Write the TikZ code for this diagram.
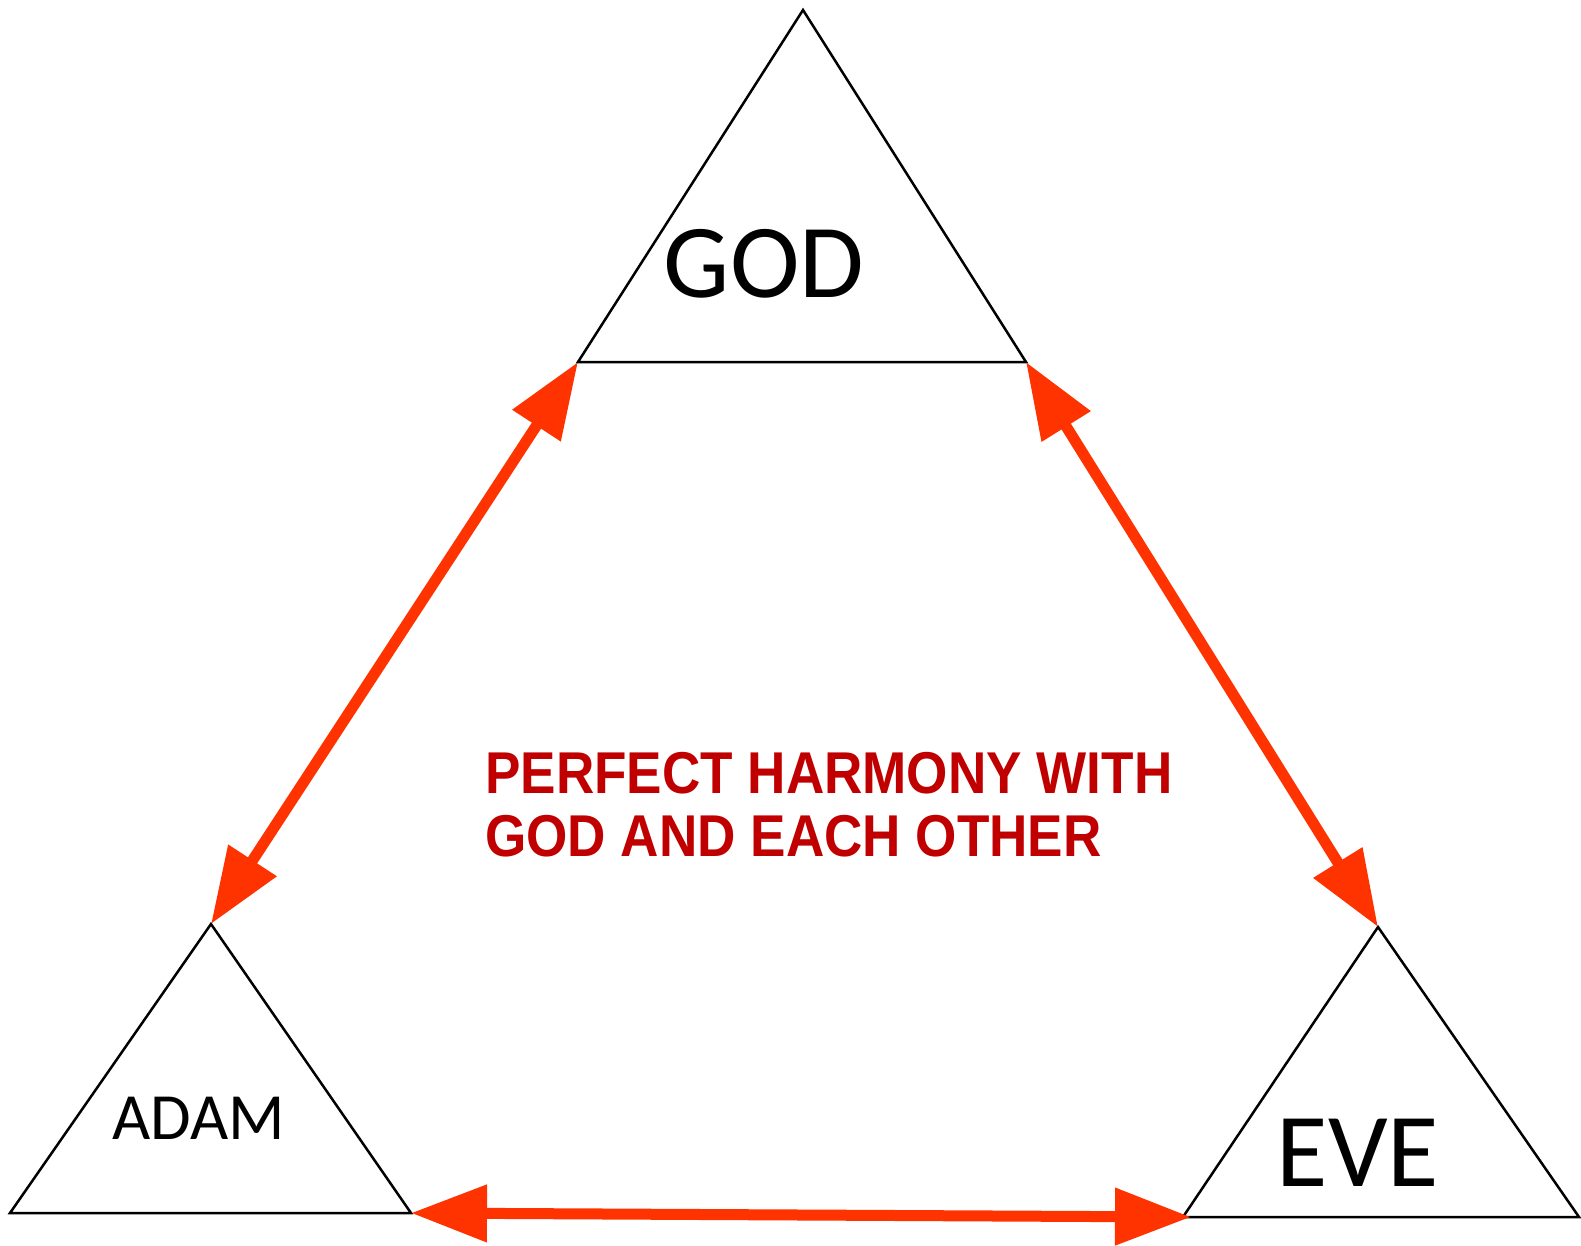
\documentclass[tikz,border=0pt]{standalone}
\usepackage{fontspec}
\usetikzlibrary{arrows.meta, positioning, calc}
\newfontfamily\namefont{Carlito}
\newfontfamily\harmonyfont[FakeStretch=0.9]{Liberation Sans}
\definecolor{arrowred}{HTML}{FF3300}
\definecolor{textred}{HTML}{C00000}

\begin{document}
\begin{tikzpicture}[x=1pt, y=-1pt,
    tri/.style={draw=black, line width=2.5pt, line join=miter},
    bond/.style={{Triangle[length=76pt, width=55pt]}-{Triangle[length=76pt, width=55pt]}, line width=11pt, arrowred}]
  \useasboundingbox (0,0) rectangle (1581,1245);
  % the three triangles
  \coordinate (godtop) at (803,10);
  \coordinate (godleft) at (578,362);
  \coordinate (godright) at (1026,362);
  \coordinate (adamtop) at (211,924);
  \coordinate (adamleft) at (10,1213);
  \coordinate (adamright) at (411,1213);
  \coordinate (evetop) at (1378,927);
  \coordinate (eveleft) at (1183,1217);
  \coordinate (everight) at (1579,1217);
  \coordinate (evetip) at (1191,1217);
  \draw[tri] (godtop) -- (godleft) -- (godright) -- cycle;
  \draw[tri] (adamtop) -- (adamleft) -- (adamright) -- cycle;
  \draw[tri] (evetop) -- (eveleft) -- (everight) -- cycle;
  \node[anchor=base, inner sep=0pt, font=\namefont\fontsize{105}{110}\selectfont] (god) at (764,297) {GOD};
  \node[anchor=base, inner sep=0pt, font=\namefont\fontsize{66}{70}\selectfont] (adam) at (199,1139) {ADAM};
  \node[anchor=base, inner sep=0pt, font=\namefont\fontsize{105}{110}\selectfont] (eve) at (1358,1186) {EVE};
  % harmony arrows
  \draw[bond] (godleft) -- (adamtop);
  \draw[bond] (godright) -- (evetop);
  \draw[bond] (adamright) -- (evetip);
  \node[anchor=base west, inner sep=0pt, align=left, text=textred,
        font=\harmonyfont\bfseries\fontsize{59}{62.5}\selectfont] (harmony) at (485,856) {PERFECT HARMONY WITH\\GOD AND EACH OTHER};
\end{tikzpicture}
\end{document}
